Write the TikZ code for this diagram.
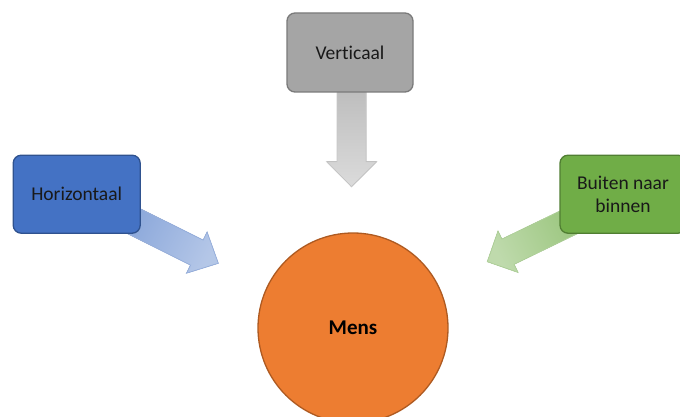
\documentclass[tikz,border=0pt]{standalone}
\usepackage{fontspec}
\setmainfont{Carlito}[Ligatures=NoCommon]
\definecolor{blauw}{HTML}{4472C4}
\definecolor{blauwrand}{HTML}{2F528F}
\definecolor{groen}{HTML}{70AD47}
\definecolor{groenrand}{HTML}{507E32}
\definecolor{grijs}{HTML}{A5A5A5}
\definecolor{grijsrand}{HTML}{7A7A7A}
\definecolor{oranje}{HTML}{ED7D31}
\definecolor{oranjerand}{HTML}{AE5A21}
\tikzset{
  box/.style={draw, line width=1.3pt, rounded corners=8pt, minimum width=126pt,
    minimum height=79pt, inner sep=0pt, align=center, text=black!90,
    font=\fontsize{19.5}{23}\selectfont},
  pijl/.style={line width=0.8pt},
}
\begin{document}
\begin{tikzpicture}[x=1pt,y=-1pt]
\useasboundingbox (0,0) rectangle (680,417);
\clip (0,0) rectangle (680,417);
% pijlen
\filldraw[pijl, draw=black!22, top color=black!27, bottom color=black!14]
  (337,80) -- (337,161.7) -- (326.7,161.7) -- (351.5,186.7)
  -- (376.7,161.7) -- (366,161.7) -- (366,80) -- cycle;
\filldraw[pijl, draw=blauw!55, top color=blauw!65, bottom color=blauw!40, shading angle=63]
  (122.6,199.9) -- (203.1,240.1) -- (207.1,232.0) -- (218.3,263.3)
  -- (186.5,273.2) -- (190.5,265.1) -- (110.0,224.9) -- cycle;
\filldraw[pijl, draw=groen!55, top color=groen!75, bottom color=groen!45, shading angle=-64]
  (587.4,197.7) -- (501.9,239.1) -- (498.0,231.0) -- (487.3,261.7)
  -- (518.0,272.4) -- (514.1,264.3) -- (599.6,222.9) -- cycle;
% blokken
\node[box, fill=grijs, draw=grijsrand] (verticaal) at (350,52.5) {Verticaal};
\node[box, fill=blauw, draw=blauwrand, minimum width=127pt, minimum height=78pt]
  (horizontaal) at (76.7,194.2) {Horizontaal};
\node[box, fill=groen, draw=groenrand, minimum height=78pt]
  (buiten) at (623,194.2) {Buiten naar\\binnen};
\node[circle, draw=oranjerand, fill=oranje, line width=1.3pt, minimum size=190pt,
  inner sep=0pt, font=\fontsize{21}{25}\selectfont\bfseries] (mens) at (353,328) {Mens};
\end{tikzpicture}
\end{document}
